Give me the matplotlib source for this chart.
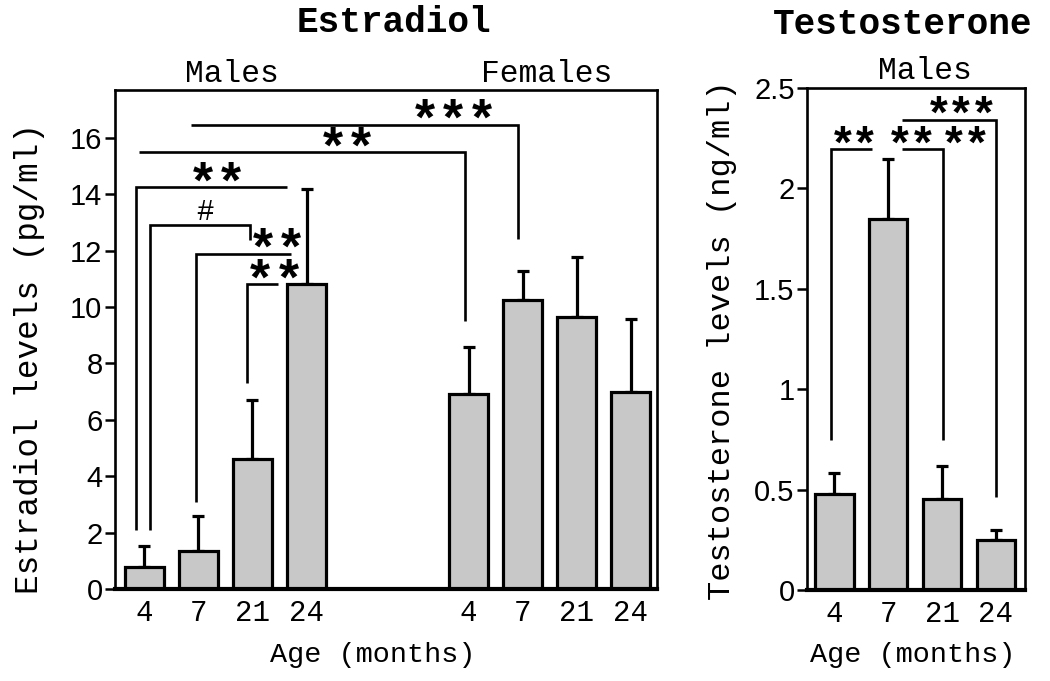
import matplotlib
matplotlib.use("Agg")
import matplotlib.pyplot as plt
import matplotlib.transforms as mtransforms
import numpy as np

# ---------------- data ----------------
e2_labels = ["4", "7", "21", "24", "4", "7", "21", "24"]
e2_male_mean = [0.78, 1.35, 4.61, 10.82]
e2_male_err = [0.75, 1.24, 2.09, 3.37]
e2_female_mean = [6.92, 10.25, 9.65, 6.99]
e2_female_err = [1.66, 1.03, 2.13, 2.59]

t_labels = ["4", "7", "21", "24"]
t_mean = [0.478, 1.848, 0.453, 0.249]
t_err = [0.105, 0.30, 0.167, 0.051]

# significance brackets: (polyline x, polyline y, label, label x, label y)
e2_brackets = [
    ([0.86, 6.92, 6.92], [16.46, 16.46, 12.40], "***", 5.71, 16.92),
    ([-0.10, 5.94, 5.94], [15.50, 15.50, 9.51], "**", 3.75, 15.93),
    ([-0.16, -0.16, 2.64], [2.09, 14.26, 14.26], "**", 1.34, 14.69),
    ([0.10, 0.10, 1.95, 1.95], [2.09, 12.91, 12.91, 12.38], "#", 1.12, 13.37),
    ([0.95, 0.95, 2.71], [3.09, 11.88, 11.88], "**", 2.45, 12.35),
    ([1.90, 1.90, 2.47], [7.31, 10.82, 10.82], "**", 2.40, 11.25),
]
t_brackets = [
    ([-0.07, -0.07, 0.70], [0.747, 2.196, 2.196], "**", 0.36, 2.256),
    ([1.25, 2.01, 2.01], [2.196, 2.196, 0.747], "**", 1.43, 2.256),
    ([1.25, 3.0, 3.0], [2.34, 2.34, 0.463], "***", 2.35, 2.405),
    (None, None, "**", 2.43, 2.256),
]

# ---------------- style ----------------
W, H = 1050, 681
fig = plt.figure(figsize=(W / 100, H / 100), dpi=100)
MONO = "Liberation Mono"
SANS = "Liberation Sans"
BAR = "#c8c8c8"
STAR_RAISE = 0.445  # glyph centre above baseline, in em


def fx(px):
    return px / W


def fy(py):
    return 1 - py / H


def style_axes(ax, yt, ytl):
    for s in ax.spines.values():
        s.set_linewidth(1.9)
    ax.spines["bottom"].set_linewidth(3.0)
    ax.set_yticks(yt)
    ax.set_yticklabels(ytl, fontfamily=SANS, fontsize=21)
    ax.tick_params(axis="y", length=7, width=1.8, pad=2, direction="out")
    ax.tick_params(axis="x", length=0, pad=7)
    for lab in ax.get_xticklabels():
        lab.set_fontfamily(MONO)
        lab.set_fontsize(21)


def draw_bars(ax, xs, means, errs):
    ax.bar(xs, means, width=0.71, color=BAR, edgecolor="black", linewidth=2.3, zorder=2)
    ax.errorbar(xs, means, yerr=[np.zeros(len(errs)), errs], fmt="none", ecolor="black",
                elinewidth=2.3, capsize=4.3, capthick=2.3, zorder=1)


def draw_brackets(ax, brackets, pitch_px, star_size):
    for bx, by, lab, lx, ly in brackets:
        if bx is not None:
            ax.plot(bx, by, color="black", lw=1.9, solid_capstyle="butt",
                    solid_joinstyle="miter", clip_on=False, zorder=3)
        if lab == "#":
            ax.text(lx, ly, "#", ha="center", va="center", fontfamily=MONO,
                    fontsize=21, zorder=4)
        else:
            n = len(lab)
            for i in range(n):
                dx = (i - (n - 1) / 2) * pitch_px * 72 / 100
                dy = -STAR_RAISE * star_size
                tr = mtransforms.offset_copy(ax.transData, fig=fig, x=dx, y=dy, units="points")
                ax.text(lx, ly, "*", transform=tr, ha="center", va="baseline",
                        fontfamily=SANS, fontweight="bold", fontsize=star_size, zorder=4)


# ---------------- left: Estradiol ----------------
ax1 = fig.add_axes([fx(115), fy(589), fx(657 - 115), (589 - 90) / H])
xs_m = np.arange(4)
xs_f = np.arange(4) + 6
draw_bars(ax1, xs_m, e2_male_mean, e2_male_err)
draw_bars(ax1, xs_f, e2_female_mean, e2_female_err)
ax1.set_xlim(-0.546, 9.49)
ax1.set_ylim(0, 17.7)
ax1.set_xticks(list(xs_m) + list(xs_f))
ax1.set_xticklabels(e2_labels)
style_axes(ax1, np.arange(0, 17, 2), [str(v) for v in range(0, 17, 2)])
draw_brackets(ax1, e2_brackets, 28.5, 37)

# ---------------- right: Testosterone ----------------
ax2 = fig.add_axes([fx(807), fy(590), fx(1025 - 807), (590 - 88) / H])
xs_t = np.arange(4)
draw_bars(ax2, xs_t, t_mean, t_err)
ax2.set_xlim(-0.51, 3.54)
ax2.set_ylim(0, 2.5)
ax2.set_xticks(xs_t)
ax2.set_xticklabels(t_labels)
style_axes(ax2, [0, 0.5, 1, 1.5, 2, 2.5], ["0", "0.5", "1", "1.5", "2", "2.5"])
draw_brackets(ax2, t_brackets, 22.5, 33)

# ---------------- texts ----------------
fig.text(fx(394), fy(22), "Estradiol", ha="center", va="center", fontfamily=MONO,
         fontweight="bold", fontsize=26)
fig.text(fx(903), fy(24), "Testosterone", ha="center", va="center", fontfamily=MONO,
         fontweight="bold", fontsize=26)
fig.text(fx(232), fy(74), "Males", ha="center", va="center", fontfamily=MONO, fontsize=22.5)
fig.text(fx(547), fy(74), "Females", ha="center", va="center", fontfamily=MONO, fontsize=22.5)
fig.text(fx(925), fy(71), "Males", ha="center", va="center", fontfamily=MONO, fontsize=22.5)
fig.text(fx(373), fy(655), "Age (months)", ha="center", va="center", fontfamily=MONO, fontsize=20.5)
fig.text(fx(913), fy(655), "Age (months)", ha="center", va="center", fontfamily=MONO, fontsize=20.5)
fig.text(fx(30), fy(358), "Estradiol levels (pg/ml)", ha="center", va="center", rotation=90,
         fontfamily=MONO, fontsize=23.5)
fig.text(fx(722), fy(340), "Testosterone levels (ng/ml)", ha="center", va="center", rotation=90,
         fontfamily=MONO, fontsize=23)

fig.savefig("out.png", dpi=100)
